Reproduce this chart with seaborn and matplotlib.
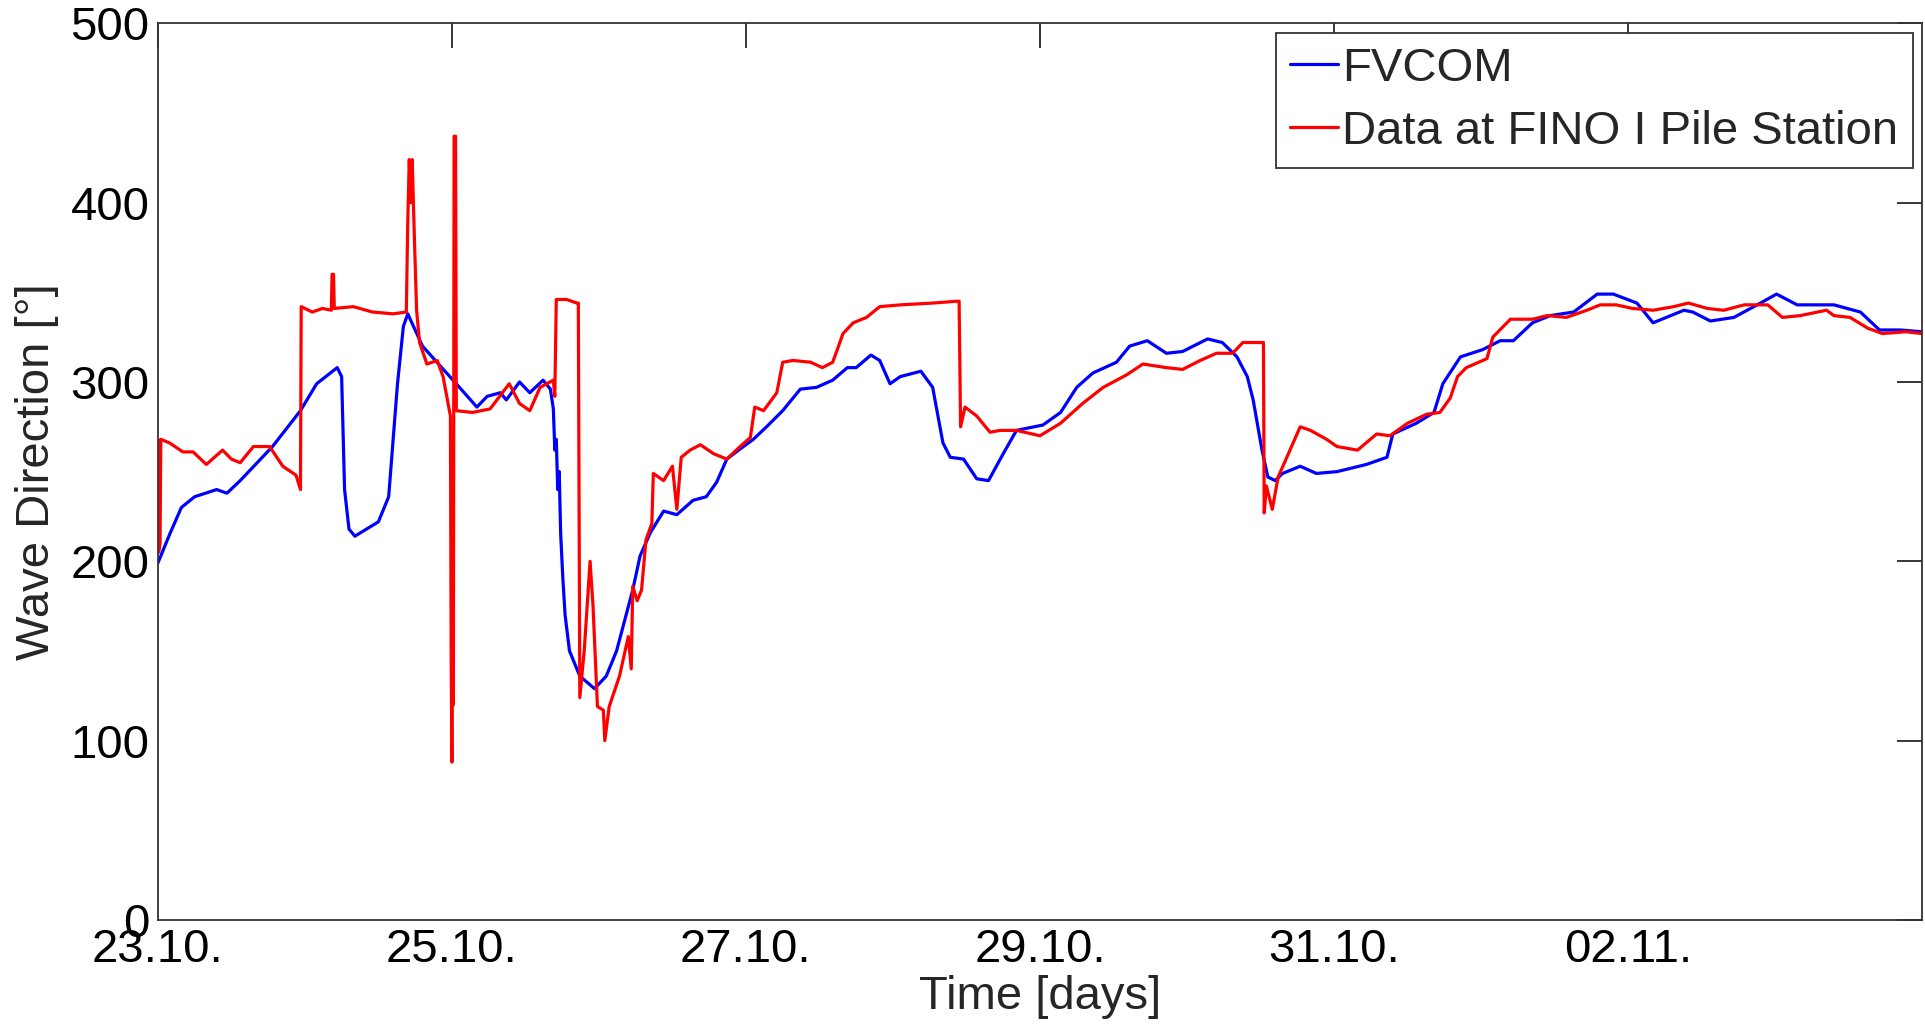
import matplotlib
matplotlib.use("Agg")
import matplotlib.pyplot as plt
import seaborn as sns
import pandas as pd

# ---- data (days after 23.10.) ----
fvcom_day = [0.0, 0.08, 0.16, 0.25, 0.40, 0.47, 0.56, 0.78, 0.97, 1.08, 1.22, 1.25, 1.27, 1.30, 1.34,
             1.42, 1.50, 1.57, 1.63, 1.67, 1.70, 1.80, 1.92, 2.03, 2.17, 2.24, 2.33, 2.37, 2.46, 2.53,
             2.62, 2.67, 2.69, 2.70, 2.71, 2.72, 2.73, 2.74, 2.755, 2.77, 2.80, 2.87, 2.97, 3.05, 3.12,
             3.23, 3.28, 3.35, 3.44, 3.53, 3.64, 3.73, 3.80, 3.87, 3.95, 4.05, 4.14, 4.25, 4.37, 4.48,
             4.59, 4.69, 4.75, 4.85, 4.91, 4.98, 5.05, 5.19, 5.27, 5.34, 5.39, 5.48, 5.57, 5.65, 5.75,
             5.84, 6.02, 6.14, 6.25, 6.36, 6.52, 6.61, 6.73, 6.86, 6.97, 7.14, 7.24, 7.34, 7.41, 7.45,
             7.51, 7.55, 7.60, 7.65, 7.77, 7.88, 8.02, 8.22, 8.36, 8.40, 8.56, 8.68, 8.74, 8.86, 9.01,
             9.13, 9.22, 9.35, 9.47, 9.63, 9.79, 9.90, 10.06, 10.17, 10.38, 10.44, 10.56, 10.72, 10.90,
             11.01, 11.15, 11.40, 11.58, 11.71, 11.85, 12.0]
fvcom_dir = [199, 215, 230, 236, 240, 238, 245, 264, 284, 299, 308, 303, 240, 218, 214,
             218, 222, 236, 299, 331, 338, 320, 309, 299, 286, 292, 294, 290, 300, 294,
             301, 296, 285, 262, 268, 240, 250, 215, 190, 170, 150, 136, 129, 136, 150,
             184, 203, 216, 228, 226, 234, 236, 244, 257, 262, 268, 275, 284, 296, 297,
             301, 308, 308, 315, 312, 299, 303, 306, 297, 266, 258, 257, 246, 245, 260,
             273, 276, 283, 297, 305, 311, 320, 323, 316, 317, 324, 322, 314, 303, 290,
             262, 247, 245, 249, 253, 249, 250, 254, 258, 271, 277, 283, 299, 314, 318,
             323, 323, 333, 337, 339, 349, 349, 344, 333, 340, 339, 334, 336, 344,
             349, 343, 343, 339, 329, 329, 328]

fino_day = [0.0, 0.005, 0.015, 0.02, 0.08, 0.17, 0.24, 0.33, 0.44, 0.50, 0.56, 0.65, 0.76, 0.85, 0.94,
            0.97, 0.975, 1.05, 1.12, 1.18, 1.185, 1.195, 1.20, 1.33, 1.46, 1.60, 1.69, 1.70, 1.71, 1.72,
            1.73, 1.745, 1.76, 1.78, 1.83, 1.90, 1.94, 1.99, 1.995, 2.00, 2.005, 2.01, 2.015, 2.025, 2.03,
            2.14, 2.26, 2.39, 2.46, 2.53, 2.60, 2.69, 2.70, 2.71, 2.78, 2.85, 2.86, 2.87, 2.90, 2.93,
            2.94, 2.96, 2.99, 3.03, 3.04, 3.07, 3.14, 3.20, 3.22, 3.23, 3.26, 3.29, 3.32, 3.36, 3.37,
            3.44, 3.50, 3.53, 3.56, 3.62, 3.69, 3.78, 3.87, 3.96, 4.03, 4.06, 4.12, 4.21, 4.25, 4.32,
            4.44, 4.52, 4.59, 4.63, 4.66, 4.73, 4.82, 4.91, 5.05, 5.27, 5.43, 5.45, 5.46, 5.49, 5.57,
            5.66, 5.73, 5.84, 6.00, 6.14, 6.29, 6.43, 6.59, 6.70, 6.86, 6.97, 7.09, 7.20, 7.31, 7.38,
            7.52, 7.525, 7.54, 7.58, 7.62, 7.70, 7.77, 7.84, 7.95, 8.02, 8.16, 8.29, 8.38, 8.50, 8.63,
            8.72, 8.79, 8.84, 8.90, 9.04, 9.08, 9.20, 9.35, 9.45, 9.58, 9.72, 9.81, 9.92, 10.03, 10.17,
            10.31, 10.41, 10.54, 10.65, 10.79, 10.95, 11.05, 11.17, 11.35, 11.40, 11.51, 11.63, 11.73,
            11.89, 12.0]
fino_dir = [268, 205, 210, 268, 266, 261, 261, 254, 262, 257, 255, 264, 264, 253, 248,
            240, 342, 339, 341, 340, 360, 360, 341, 342, 339, 338, 339, 390, 424, 400,
            424, 380, 340, 322, 310, 312, 303, 281, 150, 88, 200, 120, 437, 437, 284,
            283, 285, 299, 288, 284, 297, 301, 292, 346, 346, 344, 344, 124, 150, 188,
            200, 175, 119, 117, 100, 119, 136, 158, 140, 186, 178, 184, 212, 221, 249,
            245, 253, 229, 258, 262, 265, 260, 257, 264, 269, 286, 284, 294, 311, 312,
            311, 308, 311, 320, 327, 333, 336, 342, 343, 344, 345, 345, 275, 286, 281,
            272, 273, 273, 270, 277, 288, 297, 304, 310, 308, 307, 312, 316, 316, 322,
            322, 227, 242, 229, 247, 262, 275, 273, 268, 264, 262, 271, 270, 277, 282,
            283, 291, 303, 308, 313, 325, 335, 335, 337, 336, 340, 343, 343, 341, 340,
            342, 344, 341, 340, 343, 343, 336, 337, 340, 337, 336, 330, 327,
            328, 327]

series_names = ["FVCOM", "Data at FINO I Pile Station"]
series_colors = ["#0000ff", "#ff0000"]
tick_days = [0, 2, 4, 6, 8, 10]
tick_labels = ["23.10.", "25.10.", "27.10.", "29.10.", "31.10.", "02.11."]
y_ticks = [0, 100, 200, 300, 400, 500]

df = pd.concat([
    pd.DataFrame({"day": fvcom_day, "dir": fvcom_dir, "series": series_names[0]}),
    pd.DataFrame({"day": fino_day, "dir": fino_dir, "series": series_names[1]}),
], ignore_index=True)

sns.set_style("white")
plt.rcParams["font.family"] = ["Liberation Sans", "DejaVu Sans"]

FS = 34

fig = plt.figure(figsize=(19.25, 10.36), dpi=100)
ax = fig.add_axes([0.082, 0.112, 0.9165, 0.8655])

sns.lineplot(data=df, x="day", y="dir", hue="series", hue_order=series_names,
             palette=dict(zip(series_names, series_colors)), estimator=None, sort=False,
             linewidth=2.3, ax=ax)

ax.set_xlim(0, 12)
ax.set_ylim(0, 500)
ax.set_xticks(tick_days)
ax.set_xticklabels(tick_labels)
ax.set_yticks(y_ticks)
ax.tick_params(axis="both", direction="in", length=18, width=1.1, top=True, right=True,
               labelsize=FS, pad=6, colors="black")
for s in ax.spines.values():
    s.set_visible(True)
    s.set_color("#333333")
    s.set_linewidth(1.3)

ax.set_xlabel("Time [days]", fontsize=FS, labelpad=2)
ax.set_ylabel("Wave Direction [°]", fontsize=FS, labelpad=8)

leg = ax.legend(loc="upper right", fontsize=FS, frameon=True, fancybox=False,
                handlelength=1.0, handletextpad=0.1, borderpad=0.3, labelspacing=0.4,
                borderaxespad=0.2)
leg.get_frame().set_edgecolor("#333333")
leg.get_frame().set_linewidth(1.3)
leg.get_frame().set_alpha(1)
for h in leg.get_lines():
    h.set_linewidth(2.3)

fig.savefig("out.png", dpi=100, facecolor="white")
